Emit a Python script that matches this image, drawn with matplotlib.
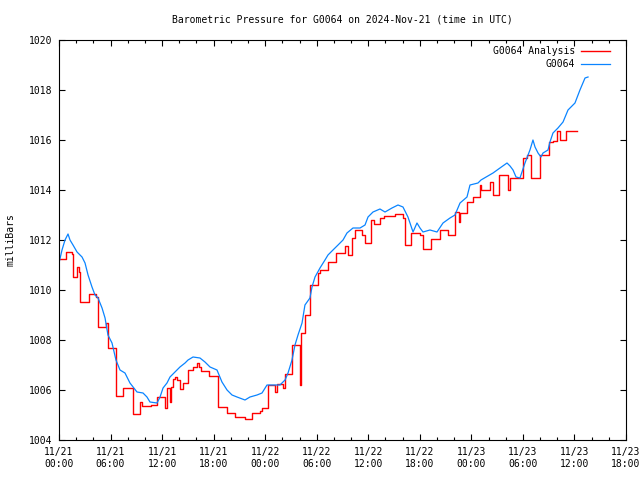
import numpy as np
import matplotlib
matplotlib.use('Agg')
import matplotlib.pyplot as plt

# hours since 2024-11-21 00:00 UTC, pressure in mbar
obs_hours = [0, 0.35, 0.70, 1.05, 1.28, 1.63, 2.10, 2.68, 3.03, 3.38, 3.84, 4.19, 4.54,
             5.01, 5.36, 5.70, 6.17, 6.63, 7.10, 7.68, 8.26, 9.08, 9.78, 10.24, 10.59,
             11.41, 11.76, 12.11, 12.57, 12.92, 13.50, 14.08, 14.67, 15.02, 15.60, 16.41,
             16.99, 17.58, 18.39, 18.97, 19.56, 20.14, 20.72, 21.65, 22.23, 23.05, 23.63,
             24.21, 25.72, 26.31, 26.66, 27.12, 27.47, 27.82, 28.29, 28.63, 29.21, 29.45,
             29.80, 30.38, 30.96, 31.31, 31.89, 32.48, 33.06, 33.52, 34.22, 35.04, 35.62,
             35.97, 36.55, 37.36, 37.95, 38.76, 39.46, 40.04, 40.62, 41.21, 41.67, 42.02,
             42.37, 43.18, 44.00, 44.70, 45.51, 46.09, 46.68, 47.49, 47.84, 48.77, 49.12,
             50.52, 51.33, 52.15, 52.50, 52.85, 53.20, 53.66, 54.24, 54.82, 55.17, 55.41,
             55.76, 56.10, 56.34, 56.92, 57.15, 57.50, 58.08, 58.67, 59.25, 60.06, 60.64,
             61.23, 61.58]
obs_press = [1011.08, 1011.60, 1012.00, 1012.24, 1012.00, 1011.80, 1011.52, 1011.32,
             1011.08, 1010.60, 1010.12, 1009.80, 1009.68, 1009.28, 1008.88, 1008.20,
             1007.88, 1007.20, 1006.80, 1006.68, 1006.28, 1005.92, 1005.88, 1005.72,
             1005.52, 1005.48, 1005.72, 1006.08, 1006.28, 1006.52, 1006.72, 1006.92,
             1007.08, 1007.20, 1007.32, 1007.28, 1007.12, 1006.92, 1006.80, 1006.32,
             1006.00, 1005.80, 1005.72, 1005.60, 1005.72, 1005.80, 1005.88, 1006.20,
             1006.20, 1006.40, 1006.68, 1007.20, 1007.80, 1008.20, 1008.68, 1009.40,
             1009.68, 1010.12, 1010.52, 1010.88, 1011.20, 1011.40, 1011.60, 1011.80,
             1012.00, 1012.28, 1012.48, 1012.48, 1012.60, 1012.92, 1013.12, 1013.24,
             1013.12, 1013.28, 1013.40, 1013.32, 1012.92, 1012.32, 1012.68, 1012.48,
             1012.32, 1012.40, 1012.32, 1012.68, 1012.88, 1013.00, 1013.48, 1013.72,
             1014.20, 1014.28, 1014.40, 1014.68, 1014.88, 1015.08, 1014.96, 1014.80,
             1014.52, 1014.48, 1015.08, 1015.60, 1016.00, 1015.72, 1015.48, 1015.32,
             1015.48, 1015.60, 1015.92, 1016.28, 1016.48, 1016.72, 1017.20, 1017.48,
             1018.00, 1018.48, 1018.52]

# analysis (step values, each held until the next time)
ana_hours = [0, 0.81, 1.51, 1.63, 2.10, 2.33, 2.44, 3.49, 4.31, 4.54, 5.47, 5.70, 6.63,
             7.45, 8.61, 9.43, 9.66, 10.71, 11.41, 12.34, 12.57, 12.92, 13.04, 13.27,
             13.50, 13.74, 14.08, 14.43, 15.02, 15.60, 16.06, 16.30, 16.53, 17.46, 18.51,
             19.56, 20.49, 21.65, 22.47, 23.40, 23.63, 24.33, 25.14, 25.37, 26.07, 26.31,
             27.12, 28.05, 28.17, 28.63, 29.22, 30.15, 30.38, 31.31, 32.24, 33.29, 33.64,
             34.11, 34.45, 35.27, 35.62, 36.32, 36.67, 37.36, 37.83, 39.11, 40.04, 40.27,
             40.97, 42.02, 42.37, 43.30, 44.35, 45.28, 46.09, 46.56, 46.68, 47.49, 48.20,
             49.01, 49.12, 50.17, 50.52, 51.22, 52.26, 52.50, 54.01, 54.48, 54.94, 55.99,
             57.04, 57.50, 57.97, 58.32, 59.02, 60.30]
ana_press = [1011.24, 1011.52, 1011.44, 1010.52, 1010.92, 1010.72, 1009.52, 1009.84,
             1009.72, 1008.52, 1008.68, 1007.68, 1005.76, 1006.08, 1005.04, 1005.52,
             1005.36, 1005.40, 1005.72, 1005.28, 1006.08, 1005.52, 1006.12, 1006.44,
             1006.52, 1006.40, 1006.04, 1006.28, 1006.80, 1006.92, 1007.08, 1006.92,
             1006.76, 1006.56, 1005.32, 1005.08, 1004.92, 1004.84, 1005.08, 1005.16,
             1005.28, 1006.20, 1005.92, 1006.24, 1006.08, 1006.64, 1007.80, 1006.20,
             1008.28, 1009.00, 1010.20, 1010.68, 1010.80, 1011.12, 1011.48, 1011.76,
             1011.40, 1012.08, 1012.40, 1012.20, 1011.88, 1012.80, 1012.64, 1012.88,
             1012.96, 1013.04, 1012.88, 1011.80, 1012.28, 1012.20, 1011.64, 1012.04,
             1012.40, 1012.20, 1013.12, 1012.72, 1013.08, 1013.52, 1013.72, 1014.20,
             1014.00, 1014.32, 1013.80, 1014.60, 1014.00, 1014.48, 1015.28, 1015.40,
             1014.48, 1015.40, 1015.92, 1015.96, 1016.36, 1016.00, 1016.36, 1016.36]

tick_hours = list(range(0, 67, 6))
tick_labels = ['11/21\n00:00', '11/21\n06:00', '11/21\n12:00', '11/21\n18:00',
               '11/22\n00:00', '11/22\n06:00', '11/22\n12:00', '11/22\n18:00',
               '11/23\n00:00', '11/23\n06:00', '11/23\n12:00', '11/23\n18:00']

plt.rcParams['font.family'] = ['DejaVu Sans Mono']
plt.rcParams['font.size'] = 7

fig = plt.figure(figsize=(6.4, 4.8), dpi=100)
ax = fig.add_axes([59 / 640, 40 / 480, 567 / 640, 400 / 480])

ax.plot(ana_hours, ana_press, color='#ff0000', lw=1.0, drawstyle='steps-post',
        label='G0064 Analysis')
ax.plot(obs_hours, obs_press, color='#0a84ff', lw=0.9, label='G0064')

ax.set_xlim(0, 66)
ax.set_ylim(1004, 1020)
ax.set_xticks(tick_hours)
ax.set_xticklabels(tick_labels)
ax.set_xticks(np.arange(0, 67, 2), minor=True)
ax.set_yticks(np.arange(1004, 1021, 2))
ax.tick_params(which='both', direction='in', top=True, right=True, width=0.8)
ax.tick_params(which='major', length=4.5, pad=5)
ax.tick_params(which='minor', length=2.2)
for s in ax.spines.values():
    s.set_linewidth(0.8)

ax.set_ylabel('milliBars')
ax.yaxis.set_label_coords(-0.077, 0.5)
fig.suptitle('Barometric Pressure for G0064 on 2024-Nov-21 (time in UTC)',
             x=342 / 640, y=1 - 20 / 480, va='center', fontsize=7)

leg = ax.legend(loc='upper right', bbox_to_anchor=(0.972, 0.985), frameon=False,
                markerfirst=False, handlelength=3.0, handletextpad=0.6,
                labelspacing=0.3, borderaxespad=0, borderpad=0, fontsize=7)

fig.savefig('out.png', dpi=100)
